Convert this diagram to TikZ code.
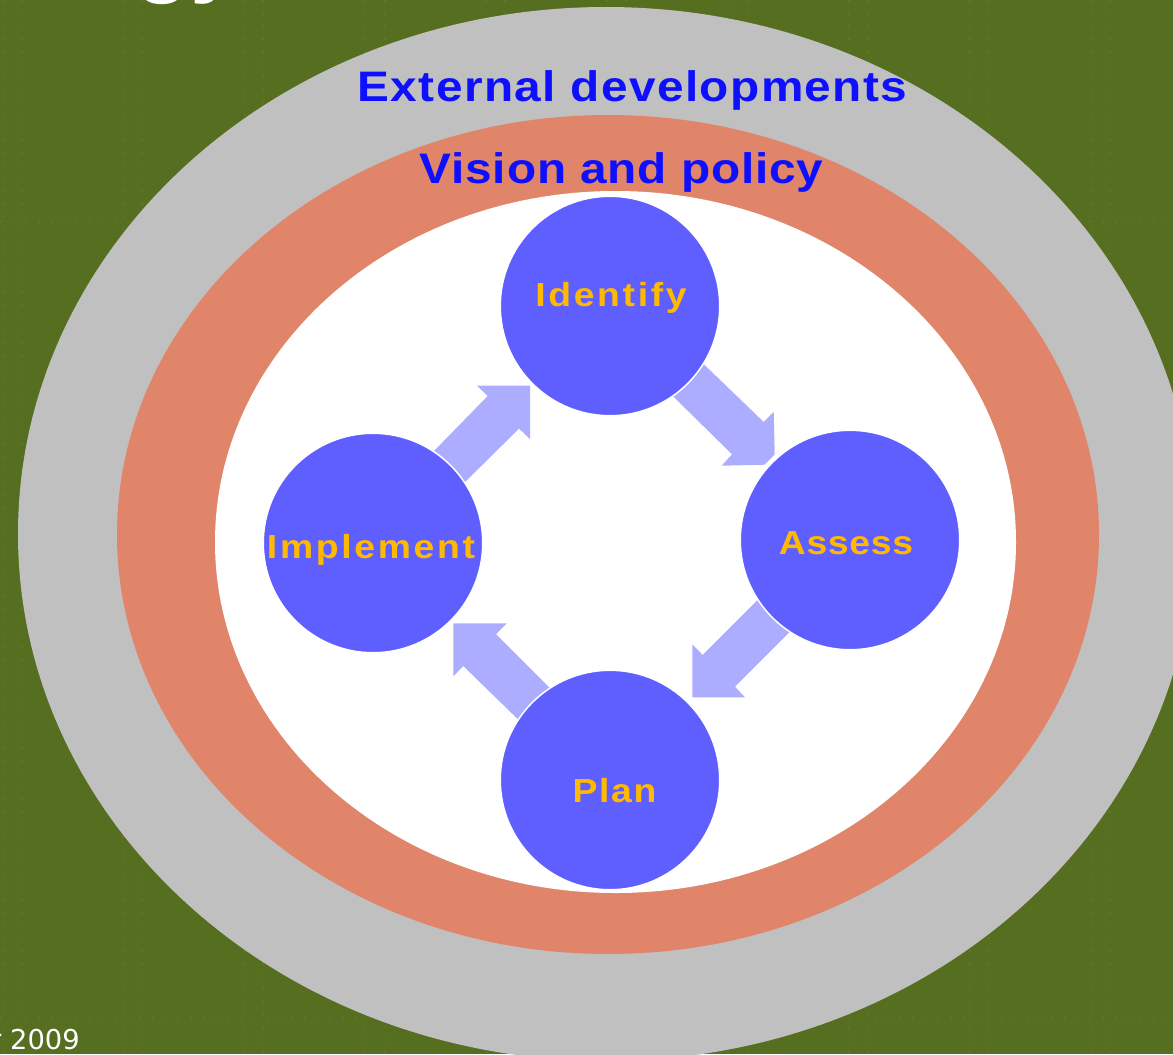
\documentclass[tikz,border=0pt]{standalone}
\usepackage{fontspec}
\setmainfont{DejaVu Sans}
\newfontfamily\ttlfont[FakeStretch=1.12,LetterSpace=3.3]{Liberation Sans}
\newfontfamily\visfont[FakeStretch=1.12,LetterSpace=2]{Liberation Sans}
\newfontfamily\stgfont[FakeStretch=1.12,LetterSpace=8]{Liberation Sans}
\newfontfamily\assfont[FakeStretch=1.12,LetterSpace=2]{Liberation Sans}
\newfontfamily\plnfont[FakeStretch=1.12,LetterSpace=5]{Liberation Sans}
\newfontfamily\gyfont{Liberation Sans}
\definecolor{bgG}{HTML}{566E20}
\definecolor{dotG}{HTML}{6B8138}
\definecolor{ringA}{HTML}{C0C0C0}
\definecolor{ringB}{HTML}{E0856A}
\definecolor{disc}{HTML}{5F5FFF}
\definecolor{arr}{HTML}{ADADFF}
\definecolor{ttl}{HTML}{0F0FFF}
\definecolor{yel}{HTML}{FFB900}
\tikzset{
 stage/.style={circle,fill=disc,draw=white,line width=1.125pt,outer sep=0pt,minimum size=164.6pt,inner sep=0pt},
 stagetxt/.style={text=yel,inner sep=0pt,anchor=base},
 ttltxt/.style={text=ttl,inner sep=0pt,anchor=base},
 flow/.style={fill=arr,draw=none},
 dotline/.style={dotG,line width=1.1pt,dash pattern=on 1.5pt off 8pt,opacity=.45}
}
\begin{document}
\begin{tikzpicture}[x=0.75pt,y=-0.75pt]
\useasboundingbox (0,0) rectangle (1173,1054);
\begin{scope}
\clip (0,0) rectangle (1173,1054);
\fill[bgG] (0,0) rectangle (1173,1054);
\foreach \xx in {3,22,123,142,245,263,365,385,486,505,607,626,728,747,849,868,970,989,1091,1110}
  \draw[dotline] (\xx,0) -- (\xx,1054);
\foreach \yy in {222,1018}
  \draw[dotline] (0,\yy) -- (1173,\yy);
\node[text=white,font=\gyfont\bfseries\fontsize{68}{80}\selectfont,anchor=base west,inner sep=0pt] (frag) at (135,-15) {gy};
\fill[ringA] (606,534) ellipse [x radius=588,y radius=527];
\fill[ringB] (608,534.5) ellipse [x radius=491,y radius=419.5];
\fill[white] (615.5,542) ellipse [x radius=400.5,y radius=351];
\node[text=white,font=\fontsize{20.5}{22}\selectfont,anchor=base east,inner sep=0pt] (yr) at (80,1049) {r 2009};
\end{scope}
\fill[flow] (431,454) -- (487.7,396) -- (477,385.7) -- (530,385.7) -- (530,439) -- (519,428.7) -- (462,485) -- cycle;
\fill[flow] (699.7,360.3) -- (763.7,422) -- (773.7,412) -- (774.7,454.3) -- (764.3,464.7) -- (721.7,465.7) -- (732,454.3) -- (668.7,392) -- cycle;
\fill[flow] (761.3,596.3) -- (793.7,628) -- (735,686.7) -- (745,697.3) -- (692.3,697.3) -- (692.3,644.3) -- (702.7,655) -- cycle;
\fill[flow] (551.7,689.7) -- (520,721.3) -- (463.3,666) -- (453.3,676.3) -- (453.3,623.3) -- (506.7,623.3) -- (496,634) -- cycle;
\node[stage] (id) at (610,306) {};
\node[stage] (as) at (850,540) {};
\node[stage] (pl) at (610,780) {};
\node[stage] (im) at (373,543) {};
\node[ttltxt,font=\ttlfont\bfseries\fontsize{32}{36}\selectfont] (ext) at (632.5,101) {External developments};
\node[ttltxt,font=\visfont\bfseries\fontsize{32}{36}\selectfont] (vis) at (621.5,183) {Vision and policy};
\node[stagetxt,font=\stgfont\bfseries\fontsize{25}{30}\selectfont] (t1) at (611,306) {Identify};
\node[stagetxt,font=\assfont\bfseries\fontsize{25}{30}\selectfont] (t2) at (846,554) {Assess};
\node[stagetxt,font=\plnfont\bfseries\fontsize{25}{30}\selectfont] (t3) at (614.5,802) {Plan};
\node[stagetxt,font=\stgfont\bfseries\fontsize{25}{30}\selectfont] (t4) at (371,558) {Implement};
\end{tikzpicture}
\end{document}
